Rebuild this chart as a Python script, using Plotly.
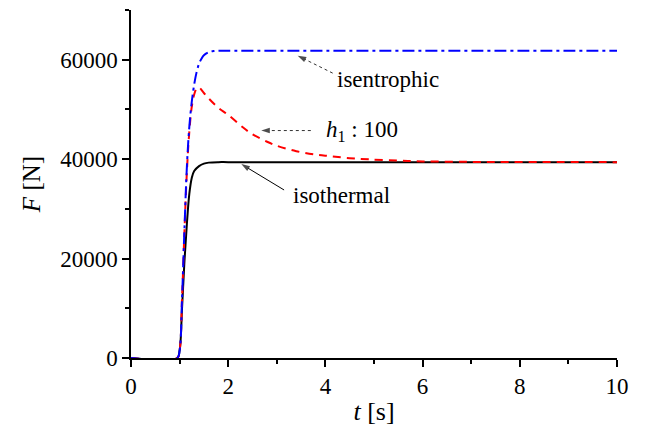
import plotly.graph_objects as go

# time axis samples (s) and force (N)
t_isentropic = [0, 0.95, 1.0, 1.05, 1.1, 1.15, 1.2, 1.25, 1.3, 1.35, 1.4, 1.45, 1.5, 1.6, 1.7, 1.8, 2.0, 4.0, 10.0]
F_isentropic = [0, 0, 1500, 12000, 26000, 38500, 46500, 51500, 55000, 57500, 59200, 60200, 60900, 61500, 61750, 61800, 61800, 61800, 61800]

t_h1 = [0, 0.95, 1.0, 1.05, 1.1, 1.15, 1.2, 1.25, 1.3, 1.35, 1.4, 1.5, 1.6, 1.8, 2.0, 2.3, 2.5, 2.8, 3.0, 3.4, 3.8, 4.1, 4.5, 4.9, 5.5, 6.0, 7.0, 8.0, 10.0]
F_h1 = [0, 0, 1500, 12000, 25500, 37500, 45500, 50500, 53000, 54200, 54400, 53300, 52200, 50300, 48900, 46400, 45000, 43500, 42700, 41600, 40900, 40600, 40200, 39950, 39700, 39550, 39450, 39420, 39400]

t_isothermal = [0, 0.95, 1.0, 1.05, 1.1, 1.15, 1.2, 1.25, 1.3, 1.4, 1.5, 1.6, 1.8, 2.0, 10.0]
F_isothermal = [0, 0, 1500, 10000, 19500, 27000, 33000, 36200, 37600, 38600, 39100, 39300, 39400, 39400, 39400]

x_ticks = [0, 2, 4, 6, 8, 10]
y_ticks = [0, 20000, 40000, 60000]

# annotation labels and pointer lines (start at label, end at curve)
labels = ["isentrophic", "<i>h</i><sub>1</sub> : 100", "isothermal"]
label_x = [4.2, 3.98, 3.3]
label_y = [56000, 45750, 32700]
pointer_t = [[4.15, 3.43], [3.7, 2.68], [3.15, 2.27]]
pointer_F = [[57300, 60800], [45750, 45750], [33800, 39000]]
pointer_dash = ["dot", "dot", "solid"]

SERIF = "Liberation Serif"

fig = go.Figure()
fig.add_trace(go.Scatter(x=t_isothermal, y=F_isothermal, mode="lines",
                         line=dict(color="black", width=2), line_shape="spline",
                         showlegend=False))
fig.add_trace(go.Scatter(x=t_h1, y=F_h1, mode="lines",
                         line=dict(color="#ff0000", width=2, dash="8px,6px"), line_shape="spline",
                         showlegend=False))
fig.add_trace(go.Scatter(x=t_isentropic, y=F_isentropic, mode="lines",
                         line=dict(color="#0000ff", width=2, dash="12px,4px,3px,4px"), line_shape="spline",
                         showlegend=False))

for px, py, dash in zip(pointer_t, pointer_F, pointer_dash):
    fig.add_trace(go.Scatter(x=px, y=py, mode="lines+markers",
                             line=dict(color="#333" if dash == "dot" else "black", width=1, dash=dash),
                             marker=dict(symbol="arrow", size=[0, 9], angleref="previous", color="black",
                                         line=dict(width=0)),
                             showlegend=False, hoverinfo="skip"))

for txt, lx, ly in zip(labels, label_x, label_y):
    fig.add_annotation(x=lx, y=ly, xref="x", yref="y", text=txt, showarrow=False,
                       xanchor="left", yanchor="middle", font=dict(family=SERIF, size=23, color="black"))

fig.update_layout(
    width=645, height=428,
    margin=dict(l=131, r=28, t=10, b=70),
    paper_bgcolor="white", plot_bgcolor="white",
    font=dict(family=SERIF, size=23, color="black"),
    showlegend=False,
)
fig.update_xaxes(range=[0, 10], tickvals=x_ticks, ticktext=[str(v) for v in x_ticks],
                 automargin=False,
                 showline=True, linecolor="black", linewidth=1.5, showgrid=False, zeroline=False,
                 ticks="outside", ticklen=7, tickwidth=1.5, tickcolor="black",
                 minor=dict(dtick=1, ticks="outside", ticklen=4, tickwidth=1.5, tickcolor="black", showgrid=False),
                 tickfont=dict(family=SERIF, size=23),
                 title=dict(text="<i>t</i> [s]", font=dict(family=SERIF, size=26), standoff=3))
fig.update_yaxes(range=[0, 70000], tickvals=y_ticks, ticktext=[str(v) for v in y_ticks],
                 automargin=False,
                 showline=True, linecolor="black", linewidth=1.5, showgrid=False, zeroline=False,
                 ticks="outside", ticklen=7, tickwidth=1.5, tickcolor="black",
                 minor=dict(dtick=10000, ticks="outside", ticklen=4, tickwidth=1.5, tickcolor="black", showgrid=False),
                 tickfont=dict(family=SERIF, size=23),
                 title=dict(text="<i>F</i> [N]", font=dict(family=SERIF, size=25), standoff=12))

fig.write_html("out.html")
